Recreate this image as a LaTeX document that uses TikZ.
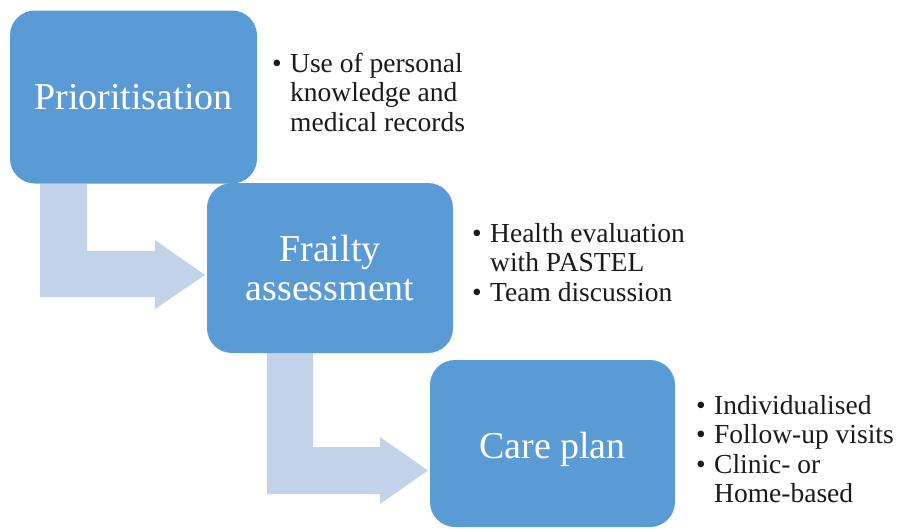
\documentclass[tikz,border=0pt]{standalone}
\usepackage{fontspec}
\setmainfont{Liberation Serif}
\definecolor{boxblue}{HTML}{5B9BD5}
\definecolor{arrowblue}{HTML}{C3D4EA}
\definecolor{txt}{HTML}{1A1A1A}
\tikzset{
  stage/.style={fill=boxblue, draw=none, rounded corners=25pt, text=white,
    align=center, font=\fontsize{38}{39}\selectfont, inner sep=0pt},
  bent/.style={fill=arrowblue, draw=none},
  notes/.style={anchor=base west, inner sep=0pt, text=txt, font=\fontsize{27.5}{29.5}\selectfont}
}
\newcommand{\bl}{\textbullet}
\begin{document}
\begin{tikzpicture}[x=1pt,y=-1pt]
\useasboundingbox[fill=white] (0,0) rectangle (899,528);
% bent arrows (behind boxes)
\fill[bent] (40,184) -- (87,184) -- (87,251) -- (155,251) -- (155,240) -- (205,275) -- (155,309) -- (155,297) -- (40,297) -- cycle;
\fill[bent] (267,353) -- (313,353) -- (313,447) -- (380,447) -- (380,437) -- (428,470.5) -- (380,504) -- (380,494) -- (267,494) -- cycle;
% stages
\node[stage, minimum width=247pt, minimum height=173pt] (p) at (133.5,97) {Prioritisation};
\node[stage, minimum width=246pt, minimum height=170pt] (f) at (330,268) {Frailty\\assessment};
\node[stage, minimum width=245pt, minimum height=167pt] (c) at (552.5,443.5) {};
\node[text=white, font=\fontsize{38}{39}\selectfont, inner sep=0pt] (ct) at (552.5,449) {Care plan};
% notes
\node[notes] (n1) at (272,72) {\begin{tabular}[t]{@{}p{18pt}@{}l@{}}\bl & Use of personal\\ & knowledge and\\ & medical records\end{tabular}};
\node[notes] (n2) at (472,242) {\begin{tabular}[t]{@{}p{18pt}@{}l@{}}\bl & Health evaluation\\ & with PASTEL\\ \bl & Team discussion\end{tabular}};
\node[notes] (n3) at (696,414) {\begin{tabular}[t]{@{}p{18pt}@{}l@{}}\bl & Individualised\\ \bl & Follow-up visits\\ \bl & Clinic- or\\ & Home-based\end{tabular}};
\end{tikzpicture}
\end{document}
